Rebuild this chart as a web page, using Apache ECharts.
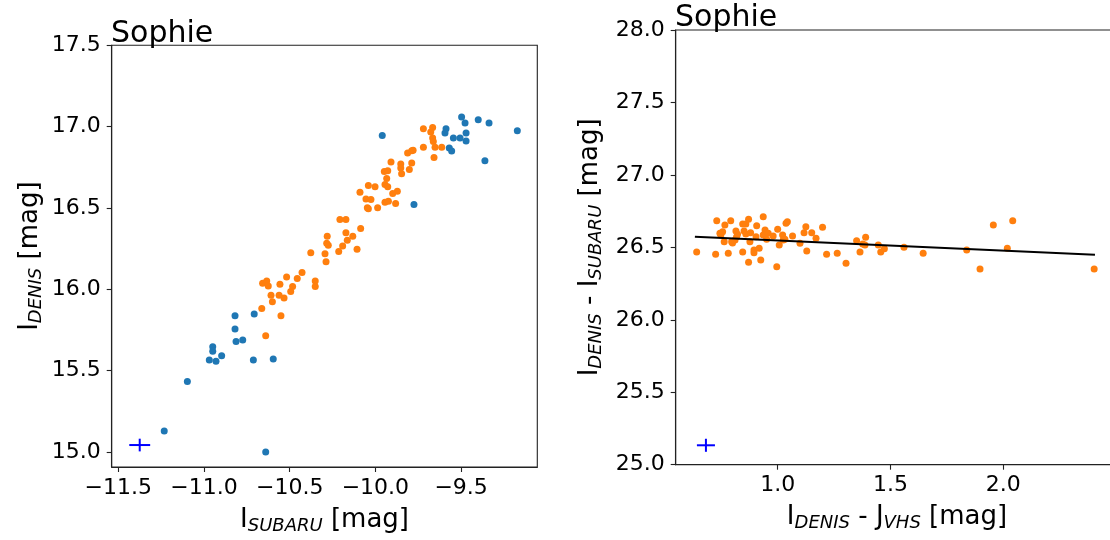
<!DOCTYPE html>
<html>
<head>
<meta charset="utf-8">
<script src="https://cdn.jsdelivr.net/npm/echarts@6/dist/echarts.min.js"></script>
<style>
html,body{margin:0;padding:0;background:#fff;overflow:hidden;width:1110px;height:540px;}
#chart{width:1130px;height:540px;}
</style>
</head>
<body>
<div id="chart"></div>
<script>
// ---------- data ----------
const panelTitles = ['Sophie', 'Sophie'];

const xTicksLeft = [-11.5, -11.0, -10.5, -10.0, -9.5];
const yTicksLeft = [15.0, 15.5, 16.0, 16.5, 17.0, 17.5];
const xTicksRight = [1.0, 1.5, 2.0];
const yTicksRight = [25.0, 25.5, 26.0, 26.5, 27.0, 27.5, 28.0];

const xRangeLeft = [-11.5385, -9.0554];
const yRangeLeft = [14.908, 17.5];
const xRangeRight = [0.548, 2.51];
const yRangeRight = [25.0, 28.0];

// all stars (blue) : [I_SUBARU, I_DENIS]
const blueLeft = [
  [-9.497,17.059],[-9.400,17.042],[-9.337,17.022],[-9.172,16.975],[-9.477,17.022],
  [-9.588,16.987],[-9.594,16.961],[-9.545,16.930],[-9.506,16.930],[-9.471,16.961],
  [-9.471,16.912],[-9.569,16.869],[-9.555,16.850],[-9.361,16.791],[-9.960,16.946],
  [-9.775,16.521],
  [-10.819,15.837],[-10.707,15.849],[-10.819,15.756],[-10.813,15.680],[-10.774,15.688],
  [-10.949,15.647],[-10.949,15.619],[-10.897,15.592],[-10.969,15.566],[-10.930,15.558],
  [-10.712,15.566],[-10.596,15.572],[-11.097,15.433],[-11.232,15.129],[-10.640,15.000]
];

// selected stars (orange) : [I_SUBARU, I_DENIS]
const orangeLeft = [
  [-9.720,16.987],[-9.666,16.995],[-9.677,16.967],[-9.666,16.930],[-9.662,16.909],
  [-9.720,16.873],[-9.652,16.873],[-9.613,16.873],[-9.658,16.811],[-9.812,16.838],
  [-9.788,16.852],[-9.780,16.855],[-9.909,16.783],[-9.852,16.771],[-9.852,16.746],
  [-9.788,16.777],[-9.802,16.736],[-9.847,16.711],[-9.948,16.725],[-9.928,16.729],
  [-9.934,16.681],[-10.041,16.638],[-10.002,16.630],[-9.944,16.644],[-9.928,16.630],
  [-9.872,16.603],[-9.899,16.589],[-10.090,16.597],[-10.055,16.556],[-10.026,16.552],
  [-9.944,16.536],[-9.924,16.542],[-9.882,16.528],[-10.047,16.501],[-10.041,16.495],
  [-9.987,16.501],[-10.207,16.430],[-10.172,16.430],[-10.086,16.374],[-10.172,16.348],
  [-10.132,16.327],[-10.164,16.301],[-10.281,16.327],[-10.284,16.283],[-10.275,16.271],
  [-10.191,16.266],[-10.214,16.232],[-10.107,16.246],[-10.377,16.225],[-10.294,16.219],
  [-10.288,16.170],[-10.428,16.103],[-10.456,16.066],[-10.518,16.076],[-10.351,16.051],
  [-10.351,16.017],[-10.658,16.037],[-10.634,16.051],[-10.625,16.021],[-10.557,16.031],
  [-10.483,16.017],[-10.494,15.987],[-10.609,15.964],[-10.562,15.964],[-10.533,15.946],
  [-10.601,15.923],[-10.663,15.882],[-10.551,15.837],[-10.640,15.714]
];

// selected stars : [I_DENIS - J_VHS, I_DENIS - I_SUBARU]
const orangeRight = [
  [0.641,26.468],[0.730,26.684],[0.725,26.452],[0.766,26.654],[0.792,26.684],
  [0.744,26.597],[0.756,26.608],[0.763,26.539],[0.781,26.459],[0.796,26.539],
  [0.815,26.613],[0.818,26.573],[0.811,26.551],[0.845,26.661],[0.859,26.661],
  [0.871,26.694],[0.851,26.613],[0.859,26.592],[0.845,26.468],[0.871,26.397],
  [0.877,26.539],[0.895,26.482],[0.895,26.463],[0.907,26.649],[0.904,26.573],
  [0.918,26.493],[0.925,26.413],[0.936,26.712],[0.944,26.620],[0.936,26.585],
  [0.951,26.556],[0.958,26.597],[0.980,26.579],[1.000,26.625],[1.007,26.516],
  [0.996,26.366],[1.022,26.585],[1.025,26.551],[1.037,26.666],[1.043,26.677],
  [1.032,26.556],[1.066,26.579],[1.099,26.528],[1.117,26.601],[1.125,26.643],
  [1.129,26.475],[1.151,26.601],[1.170,26.562],[1.199,26.638],[1.217,26.452],
  [1.264,26.459],[1.303,26.390],[1.350,26.546],[1.365,26.468],[1.377,26.523],
  [1.390,26.569],[1.387,26.516],[1.446,26.516],[1.457,26.468],[1.473,26.491],
  [1.560,26.500],[1.645,26.459],[1.838,26.482],[1.897,26.351],[1.956,26.654],
  [2.018,26.493],[2.042,26.684],[2.403,26.351],
  [0.748,26.585],[0.822,26.590],[0.800,26.530],[0.880,26.600]
];

// linear fit endpoints
const fitLine = [[0.633,26.573],[2.4065,26.449]];

// typical error bars : [x, y, xerr, yerr]
const errLeft = [[-11.375,15.043,0.061,0.039]];
const errRight = [[0.682,25.134,0.040,0.045]];

// ---------- styles ----------
const FONT = 'DejaVu Sans';
const BLUE = '#1f77b4', ORANGE = '#ff7f0e';
const fmt = v => (v < 0 ? '\u2212' : '') + Math.abs(v).toFixed(1);

const nameRich = {
  i: {fontSize: 26, fontFamily: FONT, color: '#000', lineHeight: 30},
  s: {fontSize: 18, fontFamily: FONT, color: '#000', fontStyle: 'italic', lineHeight: 18, verticalAlign: 'bottom'}
};

function valAxis(gridIndex, range, ticks, name, nameGap, isY) {
  return {
    type: 'value', gridIndex, min: range[0], max: range[1],
    name, nameLocation: 'middle', nameGap,
    nameTextStyle: {rich: nameRich, fontFamily: FONT},
    axisLine: {show: true, onZero: false, lineStyle: {color: '#222', width: 1.1}},
    axisTick: {show: true, inside: false, length: 5, lineStyle: {color: '#222', width: 1.1}, customValues: ticks},
    axisLabel: {show: true, customValues: ticks, formatter: fmt, fontSize: 22, fontFamily: FONT, color: '#000', margin: isY ? 11 : 10},
    splitLine: {show: false}
  };
}

function errRender(params, api) {
  const x = api.value(0), y = api.value(1), ex = api.value(2), ey = api.value(3);
  const a = api.coord([x - ex, y]), b = api.coord([x + ex, y]);
  const c = api.coord([x, y - ey]), d = api.coord([x, y + ey]);
  const st = {stroke: '#0000ff', lineWidth: 2};
  return {type: 'group', children: [
    {type: 'line', shape: {x1: a[0], y1: a[1], x2: b[0], y2: b[1]}, style: st},
    {type: 'line', shape: {x1: c[0], y1: c[1], x2: d[0], y2: d[1]}, style: st}
  ]};
}

const chart = echarts.init(document.getElementById('chart'), null, {renderer: 'canvas'});
chart.setOption({
  animation: false,
  backgroundColor: '#fff',
  title: [
    {text: panelTitles[0], left: 111, top: 19.5, padding: 0, textStyle: {fontSize: 30, fontWeight: 'normal', fontFamily: FONT, color: '#000', lineHeight: 30}},
    {text: panelTitles[1], left: 675, top: 3, padding: 0, textStyle: {fontSize: 30, fontWeight: 'normal', fontFamily: FONT, color: '#000', lineHeight: 30}}
  ],
  grid: [
    {left: 111.7, top: 45.3, width: 425.6, height: 423, show: true, borderColor: '#222', borderWidth: 1.1, backgroundColor: 'transparent'},
    {left: 675.7, top: 30, width: 442.6, height: 434.7, show: true, borderColor: '#222', borderWidth: 1.1, backgroundColor: 'transparent'}
  ],
  xAxis: [
    valAxis(0, xRangeLeft, xTicksLeft, '{i|I}{s|SUBARU}{i| [mag]}', 38, false),
    valAxis(1, xRangeRight, xTicksRight, '{i|I}{s|DENIS}{i| - J}{s|VHS}{i| [mag]}', 38, false)
  ],
  yAxis: [
    valAxis(0, yRangeLeft, yTicksLeft, '{i|I}{s|DENIS}{i| [mag]}', 66, true),
    valAxis(1, yRangeRight, yTicksRight, '{i|I}{s|DENIS}{i| - I}{s|SUBARU}{i| [mag]}', 70, true)
  ],
  series: [
    {type: 'scatter', xAxisIndex: 0, yAxisIndex: 0, data: blueLeft, symbolSize: 7, itemStyle: {color: BLUE, opacity: 1}},
    {type: 'scatter', xAxisIndex: 0, yAxisIndex: 0, data: orangeLeft, symbolSize: 7, itemStyle: {color: ORANGE, opacity: 1}},
    {type: 'custom', xAxisIndex: 0, yAxisIndex: 0, data: errLeft, renderItem: errRender, encode: {x: 0, y: 1}},
    {type: 'scatter', xAxisIndex: 1, yAxisIndex: 1, data: orangeRight, symbolSize: 7, itemStyle: {color: ORANGE, opacity: 1}},
    {type: 'line', xAxisIndex: 1, yAxisIndex: 1, data: fitLine, showSymbol: false, symbol: 'none', lineStyle: {color: '#000', width: 2}},
    {type: 'custom', xAxisIndex: 1, yAxisIndex: 1, data: errRight, renderItem: errRender, encode: {x: 0, y: 1}}
  ]
});
</script>
</body>
</html>
